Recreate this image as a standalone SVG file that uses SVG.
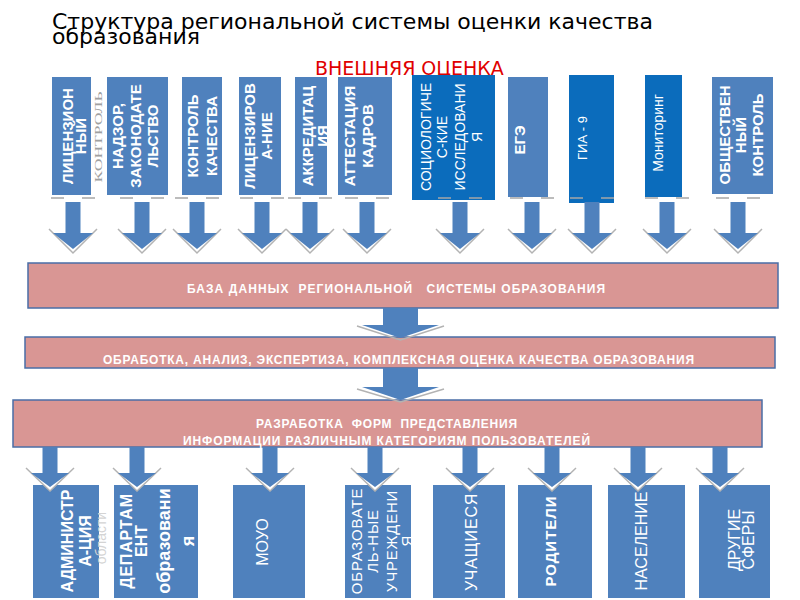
<svg xmlns="http://www.w3.org/2000/svg" width="800" height="600" viewBox="0 0 800 600">
<style>
.lb{fill:#4f81bd}
.db{fill:#0b6cbc}
.bar{fill:#d99694;stroke:#4a6ea6;stroke-width:1.5}
.t{font-family:"Liberation Sans",Arial,sans-serif;fill:#fff;text-anchor:middle}
.b{font-weight:bold}
.ls{letter-spacing:0.8px}
.f13{font-size:13px}.f14{font-size:14px}.f15{font-size:15px}.f16{font-size:16px}.f18{font-size:18px}
.bt{font-family:"Liberation Sans",Arial,sans-serif;font-weight:bold;font-size:12px;fill:#fff;white-space:pre}
.ah{fill:#4f81bd}
.av{fill:none;stroke:#b3b3b3;stroke-width:1.5}
.gl{stroke:#a6a6a6;stroke-width:1.5}
.title{font-family:"DejaVu Sans","Liberation Sans",sans-serif;font-size:22px;fill:#000}
</style>
<defs>
<g id="aT">
<path class="gl" d="M-22,198H-9M9,198H22"/>
<polyline class="av" points="-24,229 0,253 24,229"/>
<path class="ah" d="M-7.5,202H7.5V233H20L0,249L-20,233H-7.5Z"/>
</g>
<g id="aB">
<polygon points="-24,468 24,468 0,491" fill="#fff"/>
<polyline class="av" points="-24,468 0,491 24,468"/>
<path class="ah" d="M-7.5,447H7.5V473H19L0,487L-19,473H-7.5Z"/>
</g>
</defs>
<rect width="800" height="600" fill="#fff"/>

<g id="title">
<text class="title" x="52" y="29">Структура региональной системы оценки качества</text>
<text class="title" x="52" y="44">образования</text>
</g>
<text x="315" y="75" font-family="DejaVu Sans,sans-serif" font-size="19" fill="#e00000">ВНЕШНЯЯ ОЦЕНКА</text>

<g id="n1"><rect class="lb" x="52" y="77" width="39" height="118"/>
<text class="t b f15" transform="translate(73,136) rotate(-90)">ЛИЦЕНЗИОН</text>
<text class="t b f15" transform="translate(86,136) rotate(-90)">НЫЙ</text></g>
<text font-family="Liberation Serif,serif" font-size="10" fill="#a0a0a0" text-anchor="middle" textLength="91" lengthAdjust="spacingAndGlyphs" transform="translate(102,137) rotate(-90)">КОНТРОЛЬ</text>
<g id="n2"><rect class="lb" x="107" y="77" width="61" height="118"/>
<text class="t b f15" transform="translate(123,136) rotate(-90)">НАДЗОР,</text>
<text class="t b f15" transform="translate(141,136) rotate(-90)">ЗАКОНОДАТЕ</text>
<text class="t b f15" transform="translate(158,136) rotate(-90)">ЛЬСТВО</text></g>
<g id="n3"><rect class="lb" x="182" y="77" width="40" height="118"/>
<text class="t b f15" transform="translate(198,136) rotate(-90)">КОНТРОЛЬ</text>
<text class="t b f15" transform="translate(217,136) rotate(-90)">КАЧЕСТВА</text></g>
<g id="n4"><rect class="lb" x="239" y="77" width="42" height="118"/>
<text class="t b f15" transform="translate(255,136) rotate(-90)">ЛИЦЕНЗИРОВ</text>
<text class="t b f15" transform="translate(272,136) rotate(-90)">А-НИЕ</text></g>
<g id="n5"><rect class="lb" x="295" y="77" width="32" height="118"/>
<text class="t b f15" transform="translate(313,136) rotate(-90)">АККРЕДИТАЦ</text>
<text class="t b f15" transform="translate(328,136) rotate(-90)">ИЯ</text></g>
<g id="n6"><rect class="lb" x="338" y="77" width="54" height="118"/>
<text class="t b f15" transform="translate(355,136) rotate(-90)">АТТЕСТАЦИЯ</text>
<text class="t b f15" transform="translate(373,136) rotate(-90)">КАДРОВ</text></g>
<g id="n7"><rect class="db" x="412" y="75" width="83" height="125"/>
<text class="t f14" transform="translate(431,137) rotate(-90)">СОЦИОЛОГИЧЕ</text>
<text class="t f14" transform="translate(447,137) rotate(-90)">С-КИЕ</text>
<text class="t f14" transform="translate(465,137) rotate(-90)">ИССЛЕДОВАНИ</text>
<text class="t f14" transform="translate(482,137) rotate(-90)">Я</text></g>
<g id="n8"><rect class="lb" x="508" y="77" width="40" height="120"/>
<text class="t b f15" transform="translate(525,140) rotate(-90)">ЕГЭ</text></g>
<g id="n9"><rect class="db" x="569" y="75" width="45" height="128"/>
<text class="t f13" transform="translate(587,138) rotate(-90)">ГИА - 9</text></g>
<g id="n10"><rect class="db" x="645" y="75" width="37" height="122"/>
<text class="t f14" transform="translate(663,133) rotate(-90)">Мониторинг</text></g>
<g id="n11"><rect class="lb" x="712" y="77" width="61" height="117"/>
<text class="t b f15" transform="translate(730,135) rotate(-90)">ОБЩЕСТВЕН</text>
<text class="t b f15" transform="translate(746,135) rotate(-90)">НЫЙ</text>
<text class="t b f15" transform="translate(763,135) rotate(-90)">КОНТРОЛЬ</text></g>

<g id="bar1"><rect class="bar" x="28" y="263" width="750" height="45"/>
<text class="bt" x="187" y="293" textLength="418" xml:space="preserve">БАЗА ДАННЫХ  РЕГИОНАЛЬНОЙ   СИСТЕМЫ ОБРАЗОВАНИЯ</text></g>
<g id="bar2"><rect class="bar" x="25" y="337" width="750" height="31"/>
<text class="bt" x="103" y="364" textLength="591">ОБРАБОТКА, АНАЛИЗ, ЭКСПЕРТИЗА, КОМПЛЕКСНАЯ ОЦЕНКА КАЧЕСТВА ОБРАЗОВАНИЯ</text></g>
<g id="bar3"><rect class="bar" x="13" y="400" width="749" height="47"/>
<text class="bt" x="256" y="428" textLength="261" xml:space="preserve">РАЗРАБОТКА  ФОРМ  ПРЕДСТАВЛЕНИЯ</text>
<text class="bt" x="183" y="445" textLength="407">ИНФОРМАЦИИ РАЗЛИЧНЫМ КАТЕГОРИЯМ ПОЛЬЗОВАТЕЛЕЙ</text></g>

<g id="m1"><rect class="lb" x="33" y="485" width="66" height="113"/>
<text class="t b f16" transform="translate(73,541) rotate(-90)">АДМИНИСТР</text>
<text class="t b f16" transform="translate(91,541) rotate(-90)">А-ЦИЯ</text></g>
<text class="t f14" style="fill:#d4d4d4" transform="translate(106,538) rotate(-90)">области</text>
<g id="m2"><rect class="lb" x="114" y="485" width="84" height="113"/>
<text class="t b f16 ls" transform="translate(132,541) rotate(-90)">ДЕПАРТАМ</text>
<text class="t b f16" transform="translate(147,541) rotate(-90)">ЕНТ</text>
<text class="t b f18" transform="translate(170,541) rotate(-90)">образовани</text>
<text class="t b f18" transform="translate(194,541) rotate(-90)">я</text></g>
<g id="m3"><rect class="lb" x="233" y="485" width="72" height="113"/>
<text class="t f16" transform="translate(268,542) rotate(-90)">МОУО</text></g>
<g id="m4"><rect class="lb" x="345" y="485" width="66" height="113"/>
<text class="t f15 ls" transform="translate(362,541) rotate(-90)">ОБРАЗОВАТЕ</text>
<text class="t f15 ls" transform="translate(378,541) rotate(-90)">ЛЬ-НЫЕ</text>
<text class="t f15 ls" transform="translate(397,541) rotate(-90)">УЧРЕЖДЕНИ</text>
<text class="t f15" transform="translate(412,541) rotate(-90)">Я</text></g>
<g id="m5"><rect class="lb" x="433" y="485" width="72" height="113"/>
<text class="t f16 ls" transform="translate(477,542) rotate(-90)">УЧАЩИЕСЯ</text></g>
<g id="m6"><rect class="lb" x="518" y="485" width="74" height="113"/>
<text class="t b f15" style="letter-spacing:1px" transform="translate(556,541) rotate(-90)">РОДИТЕЛИ</text></g>
<g id="m7"><rect class="lb" x="608" y="485" width="77" height="113"/>
<text class="t f16" transform="translate(647,541) rotate(-90)">НАСЕЛЕНИЕ</text></g>
<g id="m8"><rect class="lb" x="699" y="485" width="71" height="113"/>
<text class="t f16" transform="translate(740,540) rotate(-90)">ДРУГИЕ</text>
<text class="t f16" transform="translate(754,540) rotate(-90)">СФЕРЫ</text></g>

<g id="connectors">
<use href="#aT" x="73"/>
<use href="#aT" x="142"/>
<use href="#aT" x="197"/>
<use href="#aT" x="262"/>
<use href="#aT" x="310"/>
<use href="#aT" x="367"/>
<use href="#aT" x="460"/>
<use href="#aT" x="532"/>
<use href="#aT" x="592"/>
<use href="#aT" x="667"/>
<use href="#aT" x="738"/>
<polyline class="av" points="357,326 400.5,340 444,326"/>
<path class="ah" d="M383,308H418V325H439L400.5,338L362,325H383Z"/>
<polyline class="av" points="357,389 400.5,402 444,389"/>
<path class="ah" d="M383,368H418V387H439L400.5,400L362,387H383Z"/>
<use href="#aB" x="50"/>
<use href="#aB" x="137"/>
<use href="#aB" x="270"/>
<use href="#aB" x="375"/>
<use href="#aB" x="470"/>
<use href="#aB" x="552"/>
<use href="#aB" x="638"/>
<use href="#aB" x="720"/>
</g>
</svg>
